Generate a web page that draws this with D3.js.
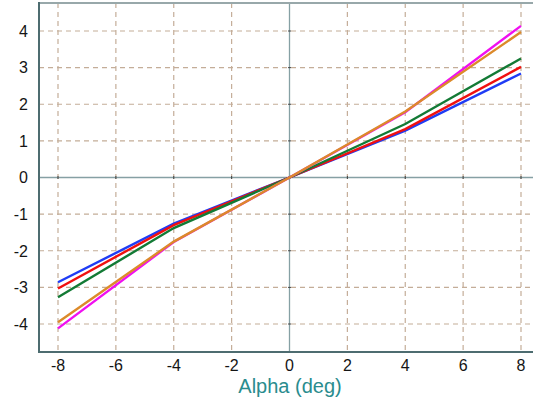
<!DOCTYPE html>
<html>
<head>
<meta charset="utf-8">
<script src="https://cdn.jsdelivr.net/npm/d3@7"></script>
<style>
body { margin: 0; background: #fff; }
svg { display: block; }
</style>
</head>
<body>
<div id="chart"></div>
<script>
var alpha = [-8, -4, 0, 4, 8];
var blueVals = [-2.86, -1.26, 0, 1.28, 2.84];
var redVals = [-3.03, -1.30, 0, 1.32, 3.02];
var greenVals = [-3.27, -1.38, 0, 1.46, 3.25];
var magentaVals = [-4.12, -1.76, 0, 1.78, 4.14];
var orangeVals = [-3.95, -1.75, 0, 1.80, 3.97];
var xTicks = [-8, -6, -4, -2, 0, 2, 4, 6, 8];
var yTicks = [-4, -3, -2, -1, 0, 1, 2, 3, 4];

var series = [
	{vals: blueVals, color: "#1f3cf5"},
	{vals: redVals, color: "#f01010"},
	{vals: greenVals, color: "#137a35"},
	{vals: magentaVals, color: "#f010f0"},
	{vals: orangeVals, color: "#dc8a2a"}
];

var width = 533, height = 397;
var frameL = 39, frameT = 3, frameR = 545, frameB = 352;

var svg = d3.select("#chart")
	.append("svg")
	.attr("width", width)
	.attr("height", height);

var x = d3.scaleLinear().domain([-8, 8]).range([58, 521]);
var y = d3.scaleLinear().domain([-4, 4]).range([324, 31]);

// grid
svg.append("g").selectAll("line")
	.data(xTicks.filter(function(d){ return d !== 0; }))
	.enter().append("line")
	.attr("x1", function(d){ return x(d); })
	.attr("x2", function(d){ return x(d); })
	.attr("y1", frameT).attr("y2", frameB)
	.attr("stroke", "#c4ad98")
	.attr("stroke-width", 1.2)
	.attr("stroke-dasharray", "5,4");

svg.append("g").selectAll("line")
	.data(yTicks.filter(function(d){ return d !== 0; }))
	.enter().append("line")
	.attr("x1", frameL).attr("x2", frameR)
	.attr("y1", function(d){ return y(d); })
	.attr("y2", function(d){ return y(d); })
	.attr("stroke", "#c4ad98")
	.attr("stroke-width", 1.2)
	.attr("stroke-dasharray", "5,4");

// zero axes
svg.append("line")
	.attr("x1", x(0)).attr("x2", x(0))
	.attr("y1", frameT).attr("y2", frameB)
	.attr("stroke", "#86a0a4").attr("stroke-width", 1.3);
svg.append("line")
	.attr("x1", frameL).attr("x2", frameR)
	.attr("y1", y(0)).attr("y2", y(0))
	.attr("stroke", "#86a0a4").attr("stroke-width", 1.3);

// small ticks on zero axes
svg.append("g").selectAll("line")
	.data(yTicks.filter(function(d){ return d !== 0; }))
	.enter().append("line")
	.attr("x1", x(0) - 1.5).attr("x2", x(0) + 1.5)
	.attr("y1", function(d){ return y(d); })
	.attr("y2", function(d){ return y(d); })
	.attr("stroke", "#444").attr("stroke-width", 1);
svg.append("g").selectAll("line")
	.data(xTicks.filter(function(d){ return d !== 0; }))
	.enter().append("line")
	.attr("x1", function(d){ return x(d); })
	.attr("x2", function(d){ return x(d); })
	.attr("y1", y(0) - 1.5).attr("y2", y(0) + 1.5)
	.attr("stroke", "#444").attr("stroke-width", 1);

// frame
svg.append("line")
	.attr("x1", frameL).attr("x2", frameR)
	.attr("y1", frameT).attr("y2", frameT)
	.attr("stroke", "#98a8aa").attr("stroke-width", 2);
svg.append("line")
	.attr("x1", frameL).attr("x2", frameL)
	.attr("y1", frameT - 1).attr("y2", frameB)
	.attr("stroke", "#4d6c70").attr("stroke-width", 2);
svg.append("line")
	.attr("x1", frameL - 1).attr("x2", frameR)
	.attr("y1", frameB).attr("y2", frameB)
	.attr("stroke", "#4d6c70").attr("stroke-width", 2);

// series
var line = d3.line()
	.x(function(d, i){ return x(alpha[i]); })
	.y(function(d){ return y(d); });

svg.append("g").selectAll("path")
	.data(series)
	.enter().append("path")
	.attr("d", function(s){ return line(s.vals); })
	.attr("fill", "none")
	.attr("stroke", function(s){ return s.color; })
	.attr("stroke-width", 2.4);

// tick labels
svg.append("g").selectAll("text")
	.data(yTicks)
	.enter().append("text")
	.attr("x", 28)
	.attr("y", function(d){ return y(d); })
	.attr("dy", "0.36em")
	.attr("text-anchor", "end")
	.attr("font-family", "Liberation Sans, Arial, sans-serif")
	.attr("font-size", 16)
	.attr("fill", "#151515")
	.text(function(d){ return d; });

svg.append("g").selectAll("text")
	.data(xTicks)
	.enter().append("text")
	.attr("x", function(d){ return x(d); })
	.attr("y", 371)
	.attr("text-anchor", "middle")
	.attr("font-family", "Liberation Sans, Arial, sans-serif")
	.attr("font-size", 16)
	.attr("fill", "#151515")
	.text(function(d){ return d; });

svg.append("text")
	.attr("x", 290)
	.attr("y", 393)
	.attr("text-anchor", "middle")
	.attr("font-family", "Liberation Sans, Arial, sans-serif")
	.attr("font-size", 20)
	.attr("fill", "#2a8c8e")
	.text("Alpha (deg)");
</script>
</body>
</html>
